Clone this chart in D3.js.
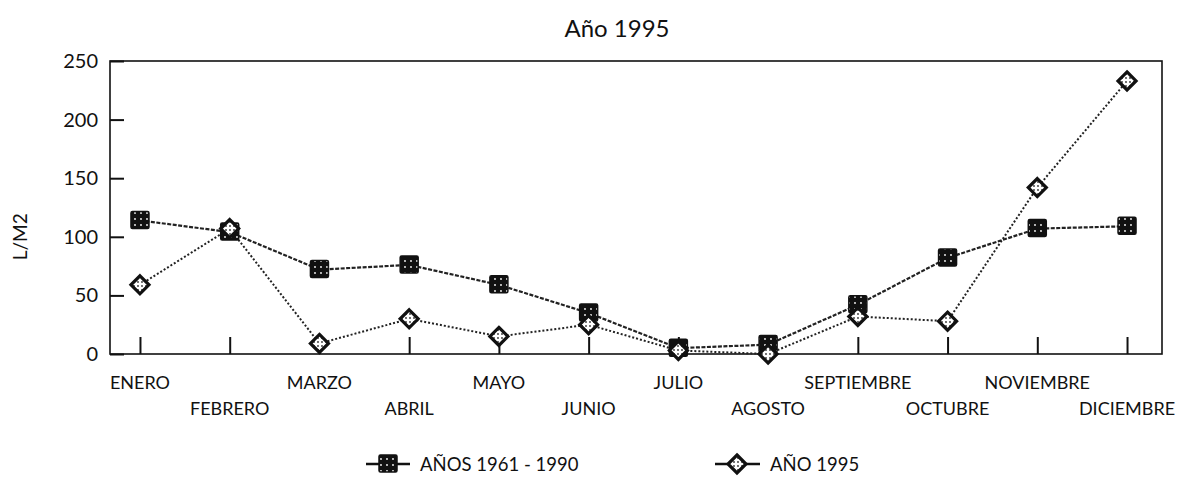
<!DOCTYPE html>
<html><head><meta charset="utf-8">
<script src="https://cdn.jsdelivr.net/npm/d3@7/dist/d3.min.js"></script>
<style>body{margin:0;background:#fff}svg{display:block}text{font-family:Lato,"Open Sans",sans-serif;fill:#111}</style>
</head><body><div id="chart"></div>
<script>
const months = ["ENERO","FEBRERO","MARZO","ABRIL","MAYO","JUNIO","JULIO","AGOSTO","SEPTIEMBRE","OCTUBRE","NOVIEMBRE","DICIEMBRE"];
const normal6190 = [114,104,72,76,59,35,5,8,42,82,107,109];
const year1995 = [59,107,9,30,15,25,3,0,32,28,142,233];
const yTicks = [0,50,100,150,200,250];
const seriesNames = ["AÑOS 1961 - 1990","AÑO 1995"];
const title = "Año 1995";
const yLabel = "L/M2";

const W=1187,H=480;
const m={l:110,r:25,t:61,b:126};
const svg=d3.select("#chart").append("svg").attr("width",W).attr("height",H);
const defs=svg.append("defs");
const p1=defs.append("pattern").attr("id","sq").attr("patternUnits","userSpaceOnUse").attr("width",6).attr("height",6);
p1.append("rect").attr("width",6).attr("height",6).attr("fill","#111");
p1.append("circle").attr("cx",3).attr("cy",3).attr("r",0.9).attr("fill","#fff");
const p2=defs.append("pattern").attr("id","dm").attr("patternUnits","userSpaceOnUse").attr("width",4).attr("height",4);
p2.append("rect").attr("width",4).attr("height",4).attr("fill","#fff");
p2.append("circle").attr("cx",2).attr("cy",2).attr("r",0.9).attr("fill","#333");

const x=d3.scalePoint().domain(months).range([m.l,W-m.r-5]).padding(0.334);
const y=d3.scaleLinear().domain([0,250]).range([H-m.b,m.t]);

svg.append("text").attr("x",617).attr("y",37).attr("text-anchor","middle").attr("font-size",24).text(title);

// frame
svg.append("rect").attr("x",m.l).attr("y",m.t).attr("width",W-m.r-m.l).attr("height",H-m.b-m.t).attr("fill","none").attr("stroke","#111").attr("stroke-width",1.6);

// y axis
const ya=svg.append("g").attr("transform",`translate(${m.l},0)`).call(d3.axisRight(y).tickValues(yTicks).tickSize(14).tickFormat(""));
ya.select(".domain").remove();
ya.selectAll("line").attr("stroke","#111").attr("stroke-width",2);
svg.selectAll(".ytl").data(yTicks).join("text").attr("class","ytl").attr("x",m.l-12).attr("y",d=>y(d)+7).attr("text-anchor","end").attr("font-size",20).text(d=>d);
svg.append("text").attr("transform",`translate(27,${y(100)}) rotate(-90)`).attr("text-anchor","middle").attr("font-size",19).text(yLabel);

// x axis
const xa=svg.append("g").attr("transform",`translate(0,${H-m.b})`).call(d3.axisTop(x).tickSize(17).tickFormat(""));
xa.select(".domain").remove();
xa.selectAll("line").attr("stroke","#111").attr("stroke-width",2);
svg.selectAll(".xtl").data(months).join("text").attr("class","xtl").attr("x",d=>x(d)).attr("y",(d,i)=>i%2?415:389).attr("text-anchor","middle").attr("font-size",18).text(d=>d);

const line=d3.line().x((d,i)=>x(months[i])).y(d=>y(d));
svg.append("path").datum(year1995).attr("d",line).attr("fill","none").attr("stroke","#222").attr("stroke-width",2).attr("stroke-dasharray","2,2");
svg.append("path").datum(normal6190).attr("d",line).attr("fill","none").attr("stroke","#222").attr("stroke-width",2.2).attr("stroke-dasharray","4,1.5");

function sq(g,cx,cy){g.append("rect").attr("x",cx-9).attr("y",cy-9).attr("width",18).attr("height",17).attr("fill","url(#sq)").attr("stroke","#111").attr("stroke-width",1.5).attr("rx",1.5);}
function dm(g,cx,cy){g.append("path").attr("d",`M${cx},${cy-9}L${cx+9},${cy}L${cx},${cy+9}L${cx-9},${cy}Z`).attr("fill","url(#dm)").attr("stroke","#111").attr("stroke-width",3.2);}
const gm=svg.append("g");
normal6190.forEach((v,i)=>sq(gm,x(months[i]),y(v)));
year1995.forEach((v,i)=>dm(gm,x(months[i]),y(v)));

// legend
const lg=svg.append("g");
lg.append("line").attr("x1",366).attr("x2",410).attr("y1",464).attr("y2",464).attr("stroke","#111").attr("stroke-width",2.5);
sq(lg,388,464);
lg.append("text").attr("x",420).attr("y",471).attr("font-size",18.5).text(seriesNames[0]);
lg.append("line").attr("x1",715).attr("x2",760).attr("y1",464).attr("y2",464).attr("stroke","#111").attr("stroke-width",2.5);
dm(lg,737,464);
lg.append("text").attr("x",770).attr("y",471).attr("font-size",18.5).text(seriesNames[1]);
</script></body></html>
